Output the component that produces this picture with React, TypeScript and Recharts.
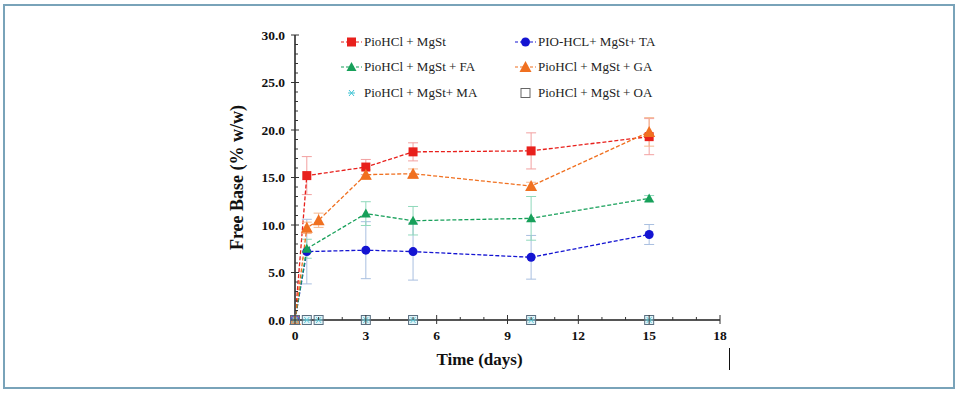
import { ComposedChart, Line, XAxis, YAxis, ErrorBar, Legend } from "recharts";

// sampling days
const DAYS = [0, 0.5, 1, 3, 5, 10, 15];

// free base (% w/w); null where the series has no sample
const MGST = [0, 15.2, null, 16.1, 17.7, 17.8, 19.3];
const MGST_ERR = [null, 2.0, null, 0.8, 0.95, 1.9, 1.9];
const TA = [0, 7.2, null, 7.35, 7.2, 6.6, 9.0];
const TA_ERR = [null, 3.4, null, 3.0, 3.0, 2.3, 1.05];
const FA = [0, 7.5, null, 11.2, 10.45, 10.7, 12.8];
const FA_ERR = [null, 1.0, null, 1.25, 1.5, 2.3, 0.3];
const GA = [0, 9.7, 10.5, 15.3, 15.4, 14.1, 19.8];
const GA_ERR = [null, 0.6, 0.75, 0.5, 0.5, 0.4, 1.5];
const MA = [0, 0, 0, 0, 0, 0, 0];
const OA = [0, 0, 0, 0, 0, 0, 0];

const X_TICKS = [0, 1, 2, 3, 4, 5, 6, 7, 8, 9, 10, 11, 12, 13, 14, 15, 16, 17, 18];
const Y_TICKS = Array.from({ length: 31 }, (_, i) => i);

const SERIF = '"Liberation Serif", "Times New Roman", serif';

const rows = (vals: (number | null)[], errs?: (number | null)[]) =>
  DAYS.map((x, i) => ({ x, y: vals[i], err: errs ? errs[i] : null })).filter((r) => r.y !== null);

type Marker = "square" | "circle" | "triangle" | "bigTriangle" | "star" | "openSquare";

function drawMarker(kind: Marker, cx: number, cy: number, color: string, key?: any, legend = false) {
  switch (kind) {
    case "square":
      return <rect key={key} x={cx - 4.5} y={cy - 4.5} width={9} height={9} fill={color} />;
    case "circle":
      return <circle key={key} cx={cx} cy={cy} r={4.5} fill={color} />;
    case "triangle":
      return <polygon key={key} points={`${cx},${cy - 5} ${cx - 5},${cy + 4} ${cx + 5},${cy + 4}`} fill={color} />;
    case "bigTriangle":
      return <polygon key={key} points={`${cx},${cy - 6} ${cx - 6},${cy + 5} ${cx + 6},${cy + 5}`} fill={color} />;
    case "star":
      return (
        <g key={key} stroke={color} strokeWidth={1}>
          <line x1={cx - 3.5} y1={cy} x2={cx + 3.5} y2={cy} />
          <line x1={cx - 2.5} y1={cy - 3} x2={cx + 2.5} y2={cy + 3} />
          <line x1={cx - 2.5} y1={cy + 3} x2={cx + 2.5} y2={cy - 3} />
        </g>
      );
    default:
      return (
        <rect
          key={key}
          x={cx - 4.5}
          y={cy - 4.5}
          width={9}
          height={9}
          fill={legend ? "#fff" : "rgba(170,220,235,0.35)"}
          stroke={legend ? "#666" : color}
          strokeWidth={1}
        />
      );
  }
}

const SERIES = [
  { name: "PioHCl + MgSt", data: rows(MGST, MGST_ERR), color: "#e8201c", err: "#f2a0a0", marker: "square" as Marker, line: true },
  { name: "PIO-HCL+ MgSt+ TA", data: rows(TA, TA_ERR), color: "#1414d2", err: "#a9bfe0", marker: "circle" as Marker, line: true },
  { name: "PioHCl + MgSt + FA", data: rows(FA, FA_ERR), color: "#17a05a", err: "#8fd8bb", marker: "triangle" as Marker, line: true },
  { name: "PioHCl + MgSt + GA", data: rows(GA, GA_ERR), color: "#f07020", err: "#f5b890", marker: "bigTriangle" as Marker, line: true },
  { name: "PioHCl + MgSt+ MA", data: rows(MA), color: "#3fc4d4", err: "#3fc4d4", marker: "star" as Marker, line: false },
  { name: "PioHCl + MgSt + OA", data: rows(OA), color: "#5a6f80", err: "#5a6f80", marker: "openSquare" as Marker, line: false },
];

const YTick = (props: any) => {
  const { x, y, payload } = props;
  const major = payload.value % 5 === 0;
  return (
    <g>
      <line x1={major ? x - 4 : x} x2={x + (major ? 4 : 3)} y1={y} y2={y} stroke="#333" strokeWidth={1} />
      {major && (
        <text x={x - 10} y={y} dy={4.5} textAnchor="end" fontFamily={SERIF} fontWeight="bold" fontSize={13.5} fill="#111">
          {payload.value.toFixed(1)}
        </text>
      )}
    </g>
  );
};

const XTick = (props: any) => {
  const { x, y, payload } = props;
  const major = payload.value % 3 === 0;
  return (
    <g>
      <line x1={x} x2={x} y1={major ? y - 5 : y - 3} y2={major ? y + 4 : y} stroke="#333" strokeWidth={1} />
      {major && (
        <text x={x} y={y + 20} textAnchor="middle" fontFamily={SERIF} fontWeight="bold" fontSize={13.5} fill="#111">
          {payload.value}
        </text>
      )}
    </g>
  );
};

const LegendBox = () => (
  <div style={{ display: "grid", gridTemplateColumns: "174px 174px", fontFamily: SERIF, fontSize: 13, color: "#222" }}>
    {SERIES.map((s) => (
      <div key={s.name} style={{ display: "flex", alignItems: "center", height: 25.5 }}>
        <svg width={23} height={14} style={{ flex: "none" }}>
          {s.line && <line x1={0} x2={21} y1={7} y2={7} stroke={s.color} strokeWidth={1.2} strokeDasharray="3 2" />}
          {drawMarker(s.marker, 10.5, 7, s.color, undefined, true)}
        </svg>
        <span style={{ whiteSpace: "nowrap" }}>{s.name}</span>
      </div>
    ))}
  </div>
);

export default function App() {
  return (
    <div style={{ position: "absolute", left: 0, top: 0, width: 960, height: 396, background: "#fff" }}>
      <div
        style={{
          position: "absolute",
          left: 3,
          top: 4,
          width: 948,
          height: 381,
          border: "2px solid #79a3b9",
        }}
      />
      <div style={{ position: "absolute", left: 729, top: 348, width: 1, height: 22, background: "#111" }} />
      <div style={{ position: "absolute", left: 0, top: 0 }}>
        <ComposedChart width={960} height={396} margin={{ top: 35, right: 240, left: 235, bottom: 46 }}>
          <XAxis
            dataKey="x"
            type="number"
            domain={[0, 18]}
            ticks={X_TICKS}
            interval={0}
            tickSize={0}
            tickMargin={0}
            tickLine={false}
            tick={<XTick />}
            axisLine={{ stroke: "#555", strokeWidth: 2 }}
            height={30}
            allowDuplicatedCategory={false}
            label={{
              content: (p: any) => {
                const vb = p.viewBox;
                return (
                  <text x={vb.x + vb.width / 2 - 28} y={vb.y + 45} textAnchor="middle" fontFamily={SERIF} fontWeight="bold" fontSize={17} fill="#111">
                    Time (days)
                  </text>
                );
              },
            }}
          />
          <YAxis
            type="number"
            domain={[0, 30]}
            ticks={Y_TICKS}
            interval={0}
            tickSize={0}
            tickMargin={0}
            tickLine={false}
            tick={<YTick />}
            axisLine={{ stroke: "#555", strokeWidth: 2 }}
            width={60}
            label={{
              content: (p: any) => {
                const vb = p.viewBox;
                const cx = vb.x + 8;
                const cy = vb.y + vb.height / 2;
                return (
                  <text x={cx} y={cy} transform={`rotate(-90, ${cx}, ${cy})`} textAnchor="middle" fontFamily={SERIF} fontWeight="bold" fontSize={18} fill="#111">
                    Free Base (% w/w)
                  </text>
                );
              },
            }}
          />
          <Legend
            layout="horizontal"
            verticalAlign="middle"
            align="center"
            content={<LegendBox />}
            wrapperStyle={{ position: "absolute", left: 341, top: 29, width: 360, height: 80 }}
          />
          {SERIES.map((s) => (
            <Line
              key={s.name}
              name={s.name}
              data={s.data}
              dataKey="y"
              stroke={s.line ? s.color : "none"}
              strokeWidth={1.3}
              strokeDasharray="4 2"
              isAnimationActive={false}
              activeDot={false}
              dot={(p: any) => drawMarker(s.marker, p.cx, p.cy, s.color, `${s.name}-${p.index}`)}
            >
              {s.line && <ErrorBar dataKey="err" direction="y" width={5} stroke={s.err} strokeWidth={1} />}
            </Line>
          ))}
        </ComposedChart>
      </div>
    </div>
  );
}
